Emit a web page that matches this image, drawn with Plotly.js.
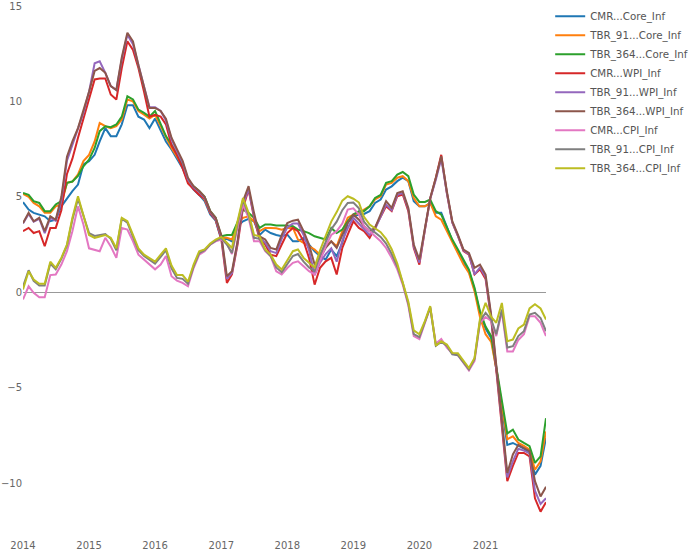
<!DOCTYPE html>
<html>
<head>
<meta charset="utf-8">
<script src="https://cdn.plot.ly/plotly-3.0.1.min.js"></script>
<style>html,body{margin:0;padding:0;background:#fff;}#chart{width:690px;height:553px;}</style>
</head>
<body>
<div id="chart"></div>
<script>
// Monthly observations, Jan 2014 .. Dec 2021
const startMonth = "2014-01-01";
const nMonths = 96;
const seriesNames = ["CMR...Core_Inf","TBR_91...Core_Inf","TBR_364...Core_Inf","CMR...WPI_Inf","TBR_91...WPI_Inf","TBR_364...WPI_Inf","CMR...CPI_Inf","TBR_91...CPI_Inf","TBR_364...CPI_Inf"];
const seriesColors = ["#1f77b4","#ff7f0e","#2ca02c","#d62728","#9467bd","#8c564b","#e377c2","#7f7f7f","#bcbd22"];

const cmrCore = [4.72,4.33,4.16,4.07,3.98,3.72,3.8,4.5,4.94,5.3,5.64,6.7,
6.87,7.2,7.9,8.6,8.18,8.18,8.8,9.8,9.8,9.2,9.05,8.6,
9.1,8.44,7.9,7.48,7.0,6.5,5.82,5.38,5.1,4.77,4.07,3.75,
2.76,2.8,2.67,3.46,3.72,3.85,3.72,3.0,3.28,3.1,3.0,2.93,
3.02,2.67,2.67,2.85,2.5,2.15,1.89,1.71,2.24,1.89,2.59,3.63,
3.98,4.07,4.1,4.25,4.68,4.86,5.38,5.55,5.82,6.0,5.82,4.77,
4.5,4.5,4.68,4.16,4.16,3.37,2.7,2.1,1.6,1.1,0.15,-1.1,
-1.9,-2.4,-4.0,-6.0,-8.0,-7.9,-8.05,-8.2,-8.42,-9.56,-9.1,-7.63];

const tbr91Core = [5.15,5.0,4.68,4.5,4.16,4.16,4.5,4.6,5.73,5.8,6.17,6.87,
7.2,7.9,8.87,8.7,8.6,8.7,9.05,10.1,10.0,9.49,9.3,9.1,
9.3,8.7,8.1,7.56,7.1,6.6,5.82,5.47,5.15,4.86,4.16,3.8,
2.85,2.85,2.76,3.6,3.9,3.98,3.72,3.2,3.37,3.37,3.35,3.28,
3.37,3.37,2.76,2.59,2.41,2.24,1.97,2.41,2.67,2.41,3.2,3.9,
4.07,4.15,4.33,4.5,4.86,5.03,5.64,5.73,6.0,6.08,5.82,4.94,
4.5,4.5,4.68,3.98,3.8,3.2,2.59,1.97,1.45,1.01,0.05,-1.3,
-2.2,-2.6,-4.0,-5.9,-7.7,-7.55,-7.9,-8.05,-8.25,-9.3,-8.86,-7.3];

const tbr364Core = [5.2,5.1,4.77,4.68,4.25,4.25,4.6,4.77,5.73,5.8,6.1,6.6,
6.95,7.56,8.44,8.7,8.65,8.79,9.2,10.27,10.1,9.57,9.4,9.2,
9.5,8.8,8.18,7.74,7.2,6.7,5.9,5.55,5.3,5.0,4.25,3.9,
2.93,3.0,3.0,3.72,4.33,4.16,3.9,3.37,3.55,3.55,3.5,3.5,
3.5,3.46,3.28,3.2,3.1,2.93,2.85,2.76,3.37,3.1,3.28,3.72,
4.07,4.25,4.25,4.5,4.94,5.1,5.73,5.82,6.17,6.3,6.08,5.12,
4.73,4.73,4.86,4.25,4.07,3.37,2.76,2.24,1.71,1.19,0.23,-1.0,
-1.8,-2.3,-3.9,-5.8,-7.4,-7.2,-7.72,-7.9,-8.07,-8.94,-8.6,-6.6];

const cmrWpi = [3.2,3.37,3.1,3.2,2.41,3.37,3.37,4.3,6.2,7.0,8.1,9.1,
10.0,11.15,11.2,11.2,10.36,10.1,11.75,13.15,12.7,11.75,10.5,9.2,
9.3,9.2,8.8,7.7,7.2,6.5,5.7,5.4,5.1,4.9,4.15,3.8,
2.8,0.49,0.93,2.5,4.42,5.38,3.9,2.76,2.5,1.97,1.89,2.5,
3.1,3.37,3.2,2.67,1.8,0.4,1.28,1.62,1.8,0.93,2.32,3.02,
3.72,3.37,3.2,2.85,3.37,3.9,4.5,4.25,5.03,5.12,4.25,2.32,
1.45,3.3,4.9,6.0,7.2,5.2,3.65,2.95,2.15,1.97,0.93,1.2,
0.7,-1.4,-4.2,-7.0,-9.9,-9.1,-8.42,-8.42,-8.6,-10.8,-11.5,-11.0];

const tbr91Wpi = [3.6,4.1,3.7,3.85,3.1,3.9,3.75,4.8,6.9,7.7,8.5,9.4,
10.5,12.0,12.1,11.5,10.8,10.6,12.2,13.5,13.0,11.9,10.7,9.7,
9.7,9.5,9.0,8.0,7.4,6.8,5.9,5.5,5.25,4.95,4.2,3.85,
2.9,0.7,1.0,2.6,4.6,5.4,4.0,2.85,2.6,2.15,2.05,2.8,
3.4,3.6,3.6,3.0,2.2,0.9,1.55,2.0,2.3,1.6,2.7,3.35,
3.9,3.6,3.3,3.0,3.3,4.0,4.6,4.3,5.1,5.2,4.35,2.4,
1.55,3.3,4.9,5.9,7.0,5.2,3.65,2.95,2.2,2.0,0.93,1.3,
0.8,-1.3,-4.1,-6.85,-9.7,-8.86,-8.2,-8.3,-8.45,-10.4,-11.1,-10.8];

const tbr364Wpi = [3.63,4.16,3.72,3.9,3.2,3.98,3.8,5.0,7.1,7.9,8.6,9.5,
10.5,11.6,11.75,11.5,10.8,10.6,12.3,13.6,13.15,11.9,10.7,9.66,
9.66,9.5,9.1,8.1,7.5,6.9,6.0,5.55,5.3,5.0,4.25,3.9,
3.0,0.84,1.1,2.67,4.77,5.56,4.16,2.93,2.76,2.32,2.24,3.0,
3.63,3.75,3.8,3.2,2.5,1.45,1.8,2.32,2.67,2.32,3.0,3.63,
4.07,3.8,3.46,3.2,3.37,4.07,4.77,4.42,5.2,5.29,4.42,2.5,
1.71,3.37,4.94,6.0,7.13,5.29,3.72,3.02,2.24,2.06,1.28,1.45,
0.93,-1.2,-4.0,-6.7,-9.47,-8.5,-8.0,-8.16,-8.33,-9.9,-10.7,-10.2];

const cmrCpi = [-0.38,0.31,-0.03,-0.26,-0.26,0.9,0.93,1.45,2.15,3.2,4.5,3.55,
2.3,2.24,2.15,2.85,2.4,1.8,3.37,3.28,2.67,1.97,1.7,1.45,
1.2,1.45,1.9,0.84,0.61,0.49,0.31,1.27,1.97,2.15,2.5,2.67,
2.76,2.55,2.0,3.4,4.6,3.9,2.67,2.67,2.15,1.89,1.1,0.93,
1.27,1.54,1.62,1.36,1.1,0.93,1.7,2.4,3.0,3.2,3.6,4.33,
4.4,4.07,3.46,3.2,2.93,2.67,2.32,1.8,1.2,0.4,-0.7,-2.3,
-2.45,-1.6,-0.8,-2.7,-2.45,-2.9,-3.2,-3.3,-3.7,-4.1,-3.6,-1.6,
-1.3,-1.5,-2.3,-1.0,-3.1,-3.1,-2.5,-2.2,-1.26,-1.26,-1.6,-2.3];

const tbr91Cpi = [0.3,1.15,0.6,0.35,0.35,1.5,1.2,1.75,2.45,3.8,4.9,3.95,
3.1,2.95,3.0,3.05,2.8,2.2,3.85,3.65,2.9,2.2,1.9,1.7,
1.5,1.85,2.2,1.25,0.75,0.7,0.45,1.35,2.05,2.2,2.5,2.7,
2.85,2.5,2.06,3.6,4.85,4.05,2.85,2.8,2.2,1.9,1.3,1.05,
1.45,1.9,2.0,1.6,1.3,1.1,1.95,2.65,3.3,3.7,4.3,4.68,
4.7,4.4,3.7,3.35,3.15,2.9,2.55,2.0,1.35,0.5,-0.6,-2.2,
-2.35,-1.6,-0.8,-2.8,-2.6,-2.8,-3.25,-3.3,-3.7,-4.05,-3.5,-1.5,
-1.08,-1.43,-2.2,-0.9,-2.9,-2.83,-2.3,-2.04,-1.17,-1.08,-1.35,-2.04];

const tbr364Cpi = [0.14,1.1,0.66,0.44,0.44,1.6,1.28,1.8,2.5,3.9,5.03,4.07,
3.0,2.85,2.93,3.0,2.85,2.3,3.9,3.72,3.0,2.3,1.97,1.8,
1.6,1.97,2.3,1.4,0.9,0.9,0.55,1.45,2.15,2.24,2.55,2.76,
2.9,2.59,2.32,3.72,4.94,4.16,3.0,2.93,2.24,1.97,1.45,1.19,
1.65,2.15,2.24,1.8,1.54,1.3,2.2,3.0,3.7,4.2,4.8,5.03,
4.9,4.7,3.95,3.55,3.35,3.15,2.8,2.25,1.5,0.58,-0.5,-2.0,
-2.2,-1.5,-0.73,-2.8,-2.57,-2.74,-3.18,-3.2,-3.6,-3.97,-3.44,-1.4,
-0.56,-1.3,-1.6,-0.56,-2.57,-2.48,-1.9,-1.7,-0.85,-0.63,-0.85,-1.43];

const allSeries = [cmrCore,tbr91Core,tbr364Core,cmrWpi,tbr91Wpi,tbr364Wpi,cmrCpi,tbr91Cpi,tbr364Cpi];

const dates = [];
for (let i = 0; i < nMonths; i++) {
  const y = 2014 + Math.floor(i / 12);
  const m = (i % 12) + 1;
  dates.push(y + "-" + (m < 10 ? "0" + m : m) + "-01");
}

const traces = allSeries.map((vals, k) => ({
  type: "scatter",
  mode: "lines",
  x: dates,
  y: vals,
  name: seriesNames[k],
  line: {color: seriesColors[k], width: 2}
}));

const layout = {
  width: 690,
  height: 553,
  margin: {l: 23, r: 144, t: 6, b: 15, pad: 0, autoexpand: false},
  paper_bgcolor: "#fff",
  plot_bgcolor: "#fff",
  font: {family: "DejaVu Sans, Verdana, sans-serif", size: 10, color: "#666"},
  showlegend: true,
  legend: {x: 1.008, y: 1.008, xanchor: "left", yanchor: "top", font: {size: 10.3, color: "#555"}, bgcolor: "rgba(0,0,0,0)"},
  xaxis: {
    type: "date",
    range: [dates[0], dates[nMonths - 1]],
    showgrid: false, zeroline: false, showline: false,
    tickformat: "%Y", dtick: "M12", tick0: "2014-01-01",
    ticks: "", automargin: false
  },
  yaxis: {
    range: [-12.88, 15],
    showgrid: false, showline: false,
    zeroline: true, zerolinecolor: "#999", zerolinewidth: 1,
    dtick: 5, tick0: 0, ticks: "", automargin: false
  }
};

Plotly.newPlot("chart", traces, layout, {displayModeBar: false, staticPlot: true});
</script>
</body>
</html>
